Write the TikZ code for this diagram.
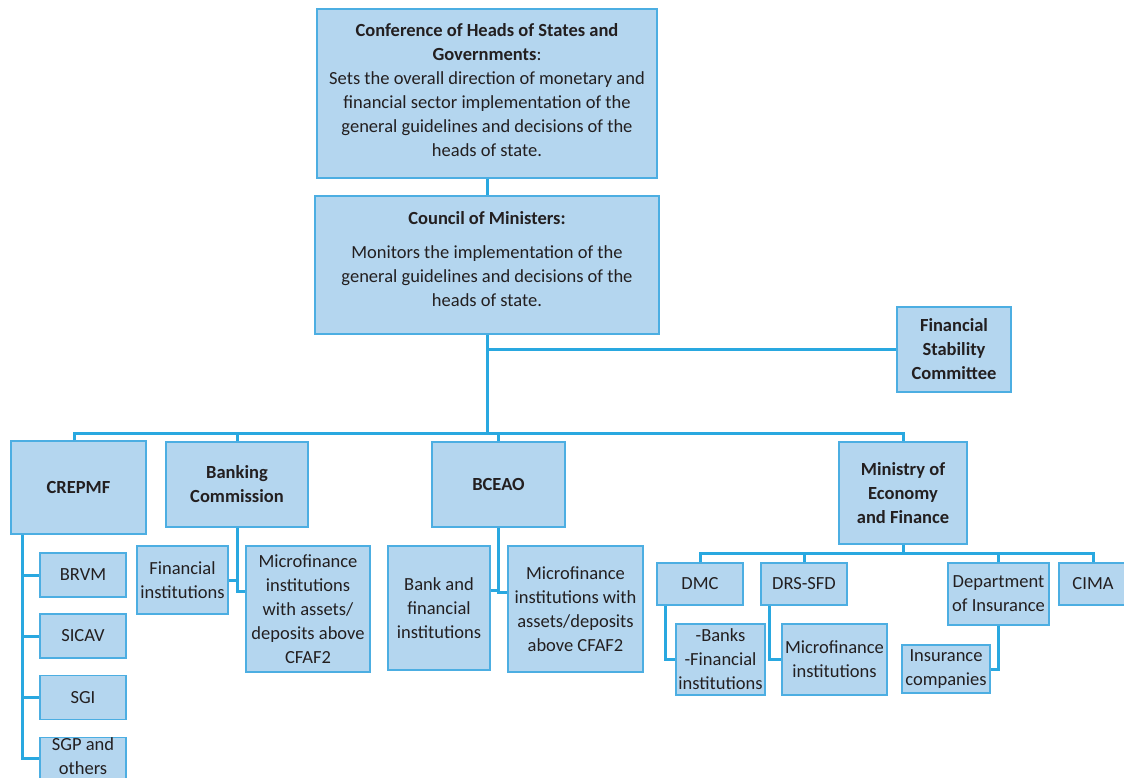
\documentclass[tikz,border=0pt]{standalone}
\usepackage{fontspec}
\setmainfont{Carlito}
\definecolor{boxfill}{RGB}{180,214,239}
\definecolor{boxline}{RGB}{76,174,226}
\definecolor{linkblue}{RGB}{41,168,224}
\definecolor{inktext}{RGB}{35,31,32}

\begin{document}
\begin{tikzpicture}[x=1pt,y=-1pt,
    orgbox/.style={draw=boxline,fill=boxfill,line width=1.3pt,inner sep=0pt,
      align=center,text=inktext,font=\fontsize{18.5}{24}\selectfont},
    link/.style={draw=linkblue,line width=3pt}]
  \useasboundingbox (0,0) rectangle (1124,778);
  % top of the tree
  \node[orgbox,minimum width=340pt,minimum height=169pt] (conf) at (487,93.5)
    {\textbf{Conference of Heads of States and}\\ \textbf{Governments}:\\
     Sets the overall direction of monetary and\\ financial sector implementation of the\\
     general guidelines and decisions of the\\ heads of state.\\[-25pt]\strut};
  \node[orgbox,minimum width=344pt,minimum height=138pt] (council) at (487,265)
    {\textbf{Council of Ministers:}\\[10pt] Monitors the implementation of the\\
     general guidelines and decisions of the\\ heads of state.\\[-20pt]\strut};
  \node[orgbox,minimum width=114pt,minimum height=85pt] (fsc) at (954,349.5)
    {\textbf{Financial}\\ \textbf{Stability}\\ \textbf{Committee}};
  % second level
  \node[orgbox,minimum width=135pt,minimum height=93pt] (crepmf) at (78.5,487.5) {\textbf{CREPMF}};
  \node[orgbox,minimum width=142pt,minimum height=85pt] (bc) at (237,484.5) {\textbf{Banking}\\ \textbf{Commission}};
  \node[orgbox,minimum width=133pt,minimum height=85pt] (bceao) at (498.5,484.5) {\textbf{BCEAO}};
  \node[orgbox,minimum width=128pt,minimum height=102pt] (ministry) at (903,493)
    {\textbf{Ministry of}\\ \textbf{Economy}\\ \textbf{and Finance}};
  % CREPMF
  \foreach \n/\t/\y in {brvm/BRVM/575, sicav/SICAV/636, sgi/SGI/697.5}
    \node[orgbox,minimum width=86pt,minimum height=44pt] (\n) at (83,\y) {\t};
  \node[orgbox,minimum width=86pt,minimum height=63pt] (sgp) at (83,771.5) {SGP and\\ others\\ \strut};
  % Banking Commission and BCEAO
  \node[orgbox,minimum width=91pt,minimum height=68pt] (bcfin) at (182.5,580) {Financial\\ institutions};
  \node[orgbox,minimum width=124pt,minimum height=126pt] (bcmicro) at (308,609)
    {Microfinance\\ institutions\\ with assets/\\ deposits above\\ CFAF2};
  \node[orgbox,minimum width=102pt,minimum height=124pt] (bank) at (439,608) {Bank and\\ financial\\ institutions};
  \node[orgbox,minimum width=135pt,minimum height=126pt] (bceaomicro) at (575.5,609)
    {Microfinance\\ institutions with\\ assets/deposits\\ above CFAF2};
  % Ministry
  \node[orgbox,minimum width=86pt,minimum height=42pt] (dmc) at (700,584) {DMC};
  \node[orgbox,minimum width=86pt,minimum height=42pt] (drs) at (804,584) {DRS-SFD};
  \node[orgbox,minimum width=101pt,minimum height=62pt] (dept) at (998.5,594) {Department\\ of Insurance};
  \node[orgbox,minimum width=68pt,minimum height=42pt] (cima) at (1093,584) {CIMA};
  \node[orgbox,minimum width=89pt,minimum height=71pt] (banks) at (720.5,659.5) {-Banks\\ -Financial\\ institutions};
  \node[orgbox,minimum width=105pt,minimum height=71pt] (drsmicro) at (834.5,659.5) {Microfinance\\ institutions};
  \node[orgbox,minimum width=88pt,minimum height=48pt] (inscomp) at (946,669) {Insurance\\ companies};

  % connectors
  \coordinate (bus) at (487,433);
  \coordinate (mbus) at (903,553);
  \draw[link] (conf.south) -- (council.north);
  \draw[link] (council.south) -- (bus);
  \draw[link] (council.south |- fsc.west) -- (fsc.west);
  \draw[link] ([xshift=-4pt]crepmf.north) |- (bus) -| (ministry.north);
  \draw[link] (bc.north) -- (bc.north |- bus);
  \draw[link] (bceao.north) -- (bceao.north |- bus);
  \coordinate (spine) at ([xshift=12pt]crepmf.south west);
  \draw[link] (spine) |- ([yshift=13.5pt]sgp.west);
  \foreach \n in {brvm,sicav,sgi}
    \draw[link] (spine |- \n.west) -- (\n.west);
  \draw[link] (bc.south) |- ([yshift=18pt]bcmicro.west);
  \draw[link] (bcfin.east) -- (bcfin.east -| bc.south);
  \draw[link] (bceao.south) |- ([yshift=17pt]bceaomicro.west);
  \draw[link] ([yshift=18pt]bank.east) -| (bceao.south);
  \draw[link] (ministry.south) -- (mbus);
  \draw[link] (dmc.north) |- (mbus) -| (cima.north);
  \draw[link] (drs.north) -- (drs.north |- mbus);
  \draw[link] (dept.north) -- (dept.north |- mbus);
  \draw[link] ([xshift=9pt]dmc.south west) |- (banks.west);
  \draw[link] ([xshift=9pt]drs.south west) |- (drsmicro.west);
  \draw[link] (dept.south) |- (inscomp.east);
\end{tikzpicture}
\end{document}
